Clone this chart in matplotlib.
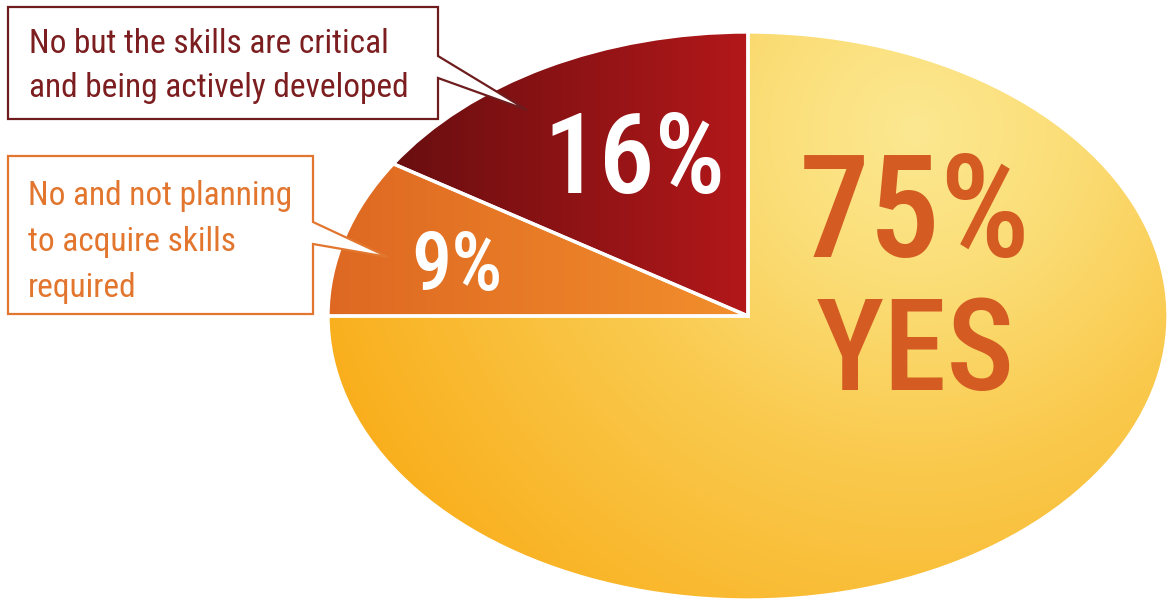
import numpy as np
import matplotlib
matplotlib.use("Agg")
import matplotlib.pyplot as plt
from matplotlib import font_manager
from matplotlib.colors import LinearSegmentedColormap
from matplotlib.patches import Polygon

# ── Survey data ──────────────────────────────────────────────────────────────
shares = [75, 9, 16]
share_keys = ["yes", "no_not_planning", "no_developing"]
yes_word = "YES"
callout_red = "No but the skills are critical\nand being actively developed"
callout_orange = "No and not planning\nto acquire skills\nrequired"

# ── Fonts: prefer a narrow sans ──────────────────────────────────────────────
installed = {f.name for f in font_manager.fontManager.ttflist}
narrow = next((n for n in ["Roboto Condensed", "Liberation Sans Narrow",
                           "Open Sans Condensed"] if n in installed), "DejaVu Sans")

W_PX, H_PX = 1167, 599
fig = plt.figure(figsize=(W_PX / 100, H_PX / 100), dpi=100)

# ellipse geometry in pixels (centre, radii)
cx, cy, rx, ry = 748, 316, 420, 284

# pie axes stretched so the unit circle becomes the ellipse
ax_pie = fig.add_axes([(cx - rx) / W_PX, (H_PX - (cy + ry)) / H_PX,
                       2 * rx / W_PX, 2 * ry / H_PX])
wedges, _ = ax_pie.pie(shares, startangle=90, counterclock=False,
                       wedgeprops=dict(edgecolor="white", linewidth=2.4))
ax_pie.set_aspect("auto")
ax_pie.set_xlim(-1, 1)
ax_pie.set_ylim(-1, 1)
ax_pie.axis("off")

# gradient fills, clipped to each wedge
gx, gy = np.meshgrid(np.linspace(-1, 1, 700), np.linspace(-1, 1, 480))
px = cx + rx * gx
py = cy - ry * gy

yes_cmap = LinearSegmentedColormap.from_list(
    "yes", [(0, "#FCE891"), (0.25, "#FBDD76"), (0.5, "#FACB50"), (1, "#F9AE1B")])
red_cmap = LinearSegmentedColormap.from_list("red", ["#690E10", "#B3181A"])
orange_cmap = LinearSegmentedColormap.from_list("orange", ["#DE6822", "#F28F2C"])

fields = {
    "yes": yes_cmap(np.clip(np.hypot(px - 915, py - 130) / 640, 0, 1)),
    "no_not_planning": orange_cmap(np.clip((px - 327) / 422, 0, 1)),
    "no_developing": red_cmap(np.clip((px - 393) / 356, 0, 1)),
}
for key, w in zip(share_keys, wedges):
    im = ax_pie.imshow(fields[key], extent=(-1, 1, -1, 1), origin="lower",
                       aspect="auto", zorder=1, interpolation="bilinear")
    im.set_clip_path(w)
    w.set_facecolor("none")
    w.set_zorder(3)

# ── Overlay axes in pixel coordinates for labels and callouts ───────────────
ax = fig.add_axes([0, 0, 1, 1])
ax.set_xlim(0, W_PX)
ax.set_ylim(H_PX, 0)
ax.patch.set_alpha(0)
ax.axis("off")

red_dark = "#6E1C1D"
red_text = "#7C1E20"
orange_line = "#E2762F"

box_red = [(8, 7), (438, 7), (438, 56), (527, 110), (438, 78), (438, 119), (8, 119)]
box_orange = [(8, 156), (313, 156), (313, 222), (388, 257), (313, 244), (313, 314), (8, 314)]
ax.add_patch(Polygon(box_red, closed=True, facecolor="white",
                     edgecolor=red_dark, linewidth=1.6, joinstyle="miter"))
ax.add_patch(Polygon(box_orange, closed=True, facecolor="white",
                     edgecolor=orange_line, linewidth=1.6, joinstyle="miter"))

for i, line in enumerate(callout_red.split("\n")):
    ax.text(29, 53 + 44 * i, line, color=red_text, fontsize=24,
            family=narrow, ha="left", va="baseline")
for i, line in enumerate(callout_orange.split("\n")):
    ax.text(28, 205 + 46 * i, line, color=orange_line, fontsize=24,
            family=narrow, ha="left", va="baseline")

# percentage labels
big = dict(family=narrow, fontweight="medium", ha="center", va="baseline")
ax.text(634, 193, f"{shares[2]}%", color="white", fontsize=80, **big)
ax.text(457, 290, f"{shares[1]}%", color="white", fontsize=58, **big)
ax.text(915, 257, f"{shares[0]}%", color="#D45B22", fontsize=102, **big)
ax.text(915, 390, yes_word, color="#D45B22", fontsize=92, **big)

fig.savefig("out.png", dpi=100)
plt.close(fig)
